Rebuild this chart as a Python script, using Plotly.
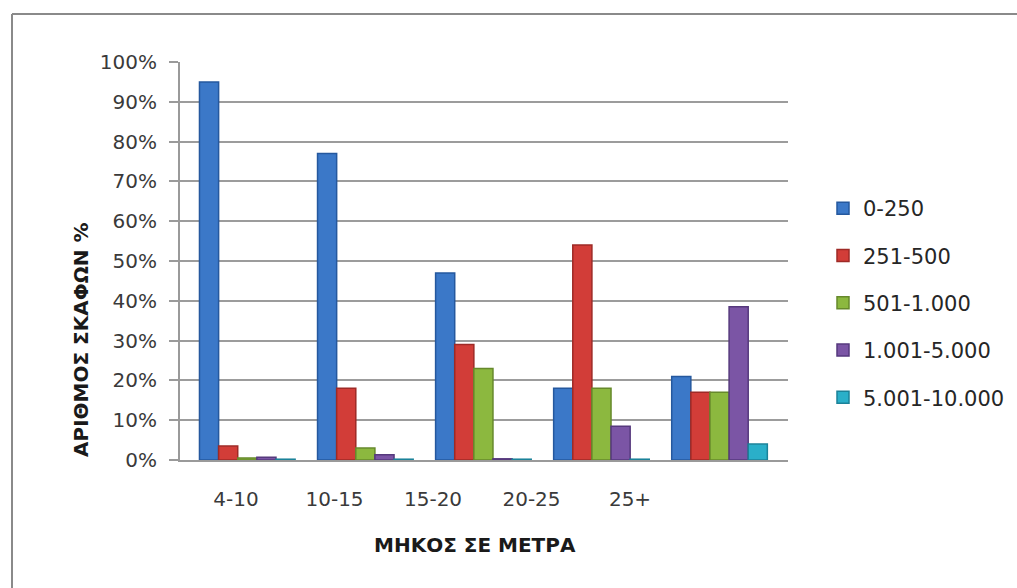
import plotly.graph_objects as go

# Vessel length classes (metres) and size classes
categories = ["4-10", "10-15", "15-20", "20-25", "25+"]
series_names = ["0-250", "251-500", "501-1.000", "1.001-5.000", "5.001-10.000"]

# Share of vessels (%) per length class, one list per size class
v_0_250 = [95, 77, 47, 18, 21]
v_251_500 = [3.5, 18, 29, 54, 17]
v_501_1000 = [0.5, 3, 23, 18, 17]
v_1001_5000 = [0.7, 1.3, 0.3, 8.5, 38.5]
v_5001_10000 = [0.2, 0.2, 0.2, 0.2, 4]

y_ticks = [0, 10, 20, 30, 40, 50, 60, 70, 80, 90, 100]
y_tick_labels = ["0%", "10%", "20%", "30%", "40%", "50%", "60%", "70%", "80%", "90%", "100%"]

series_values = [v_0_250, v_251_500, v_501_1000, v_1001_5000, v_5001_10000]
fill_colors = ["#3b78c8", "#d23d38", "#8cb83f", "#7b55a5", "#2aafc9"]
edge_colors = ["#25589e", "#9e2a26", "#66892b", "#56397d", "#1b8299"]

W, H = 1017, 588
L, R, T, B = 180, 229, 62, 128
pw, ph = W - L - R, H - T - B


def px(x, y):
    """Convert page pixel position to paper coordinates."""
    return (x - L) / pw, (H - B - y) / ph


FONT = "DejaVu Sans"

fig = go.Figure()

for i, (name, vals) in enumerate(zip(series_names, series_values)):
    fig.add_trace(go.Bar(
        x=categories,
        y=vals,
        name=name,
        legendgroup=name,
        marker=dict(color=fill_colors[i], line=dict(color=edge_colors[i], width=1.5)),
        hovertemplate="%{x}: %{y}%<extra>" + name + "</extra>",
    ))

# Category labels sit on their own axis (perspective offset of the 3D floor)
fig.add_trace(go.Scatter(
    x=list(range(len(categories))),
    y=[0] * len(categories),
    xaxis="x2",
    mode="markers",
    marker=dict(opacity=0),
    showlegend=False,
    hoverinfo="skip",
))

fig.update_layout(
    width=W,
    height=H,
    margin=dict(l=L, r=R, t=T, b=B, autoexpand=False),
    paper_bgcolor="white",
    plot_bgcolor="white",
    barmode="group",
    bargap=0.19,
    bargroupgap=0.0,
    font=dict(family=FONT, size=20, color="#3a3a3a"),
    xaxis=dict(
        type="category",
        range=[-0.57, 4.58],
        showticklabels=False,
        showgrid=False,
        showline=True,
        linecolor="#9a9a9a",
        linewidth=2,
        ticks="",
        zeroline=False,
        fixedrange=True,
    ),
    xaxis2=dict(
        overlaying="x",
        anchor="y",
        side="bottom",
        range=[-0.569, 5.604],
        tickvals=list(range(len(categories))),
        ticktext=categories,
        showgrid=False,
        showline=False,
        zeroline=False,
        ticks="",
        ticklabelstandoff=25,
        tickfont=dict(family=FONT, size=20, color="#3a3a3a"),
        fixedrange=True,
    ),
    yaxis=dict(
        range=[0, 100],
        tickvals=y_ticks,
        ticktext=y_tick_labels,
        showgrid=True,
        gridcolor="#9c9c9c",
        gridwidth=2,
        showline=True,
        linecolor="#9a9a9a",
        linewidth=2,
        ticks="outside",
        ticklen=9,
        tickcolor="#9a9a9a",
        tickwidth=2,
        ticklabelstandoff=8,
        zeroline=False,
        tickfont=dict(family=FONT, size=20, color="#3a3a3a"),
        fixedrange=True,
    ),
    legend=dict(
        x=px(823, 0)[0],
        y=px(0, 188)[1],
        xanchor="left",
        yanchor="top",
        font=dict(family=FONT, size=21, color="#262626"),
        tracegroupgap=17,
        itemwidth=30,
        bgcolor="rgba(0,0,0,0)",
    ),
    showlegend=True,
)

ax_title_x = px(81, 340)
fig.add_annotation(
    text="<b>ΑΡΙΘΜΟΣ ΣΚΑΦΩΝ %</b>",
    x=ax_title_x[0], y=ax_title_x[1],
    xref="paper", yref="paper",
    xanchor="center", yanchor="middle",
    textangle=-90,
    showarrow=False,
    font=dict(family=FONT, size=20, color="#1a1a1a"),
)
ax_title_b = px(475, 545)
fig.add_annotation(
    text="<b>ΜΗΚΟΣ ΣΕ ΜΕΤΡΑ</b>",
    x=ax_title_b[0], y=ax_title_b[1],
    xref="paper", yref="paper",
    xanchor="center", yanchor="middle",
    showarrow=False,
    font=dict(family=FONT, size=20, color="#1a1a1a"),
)

# Chart frame (top and left edges)
x0, y0 = px(12, 14)
x1, y1 = px(W + 10, H + 10)
fig.add_shape(type="line", xref="paper", yref="paper",
              x0=x0, y0=y0, x1=x1, y1=y0,
              line=dict(color="#8a8a8a", width=2))
fig.add_shape(type="line", xref="paper", yref="paper",
              x0=x0, y0=y0, x1=x0, y1=y1,
              line=dict(color="#8a8a8a", width=2))

fig.write_html("out.html")
